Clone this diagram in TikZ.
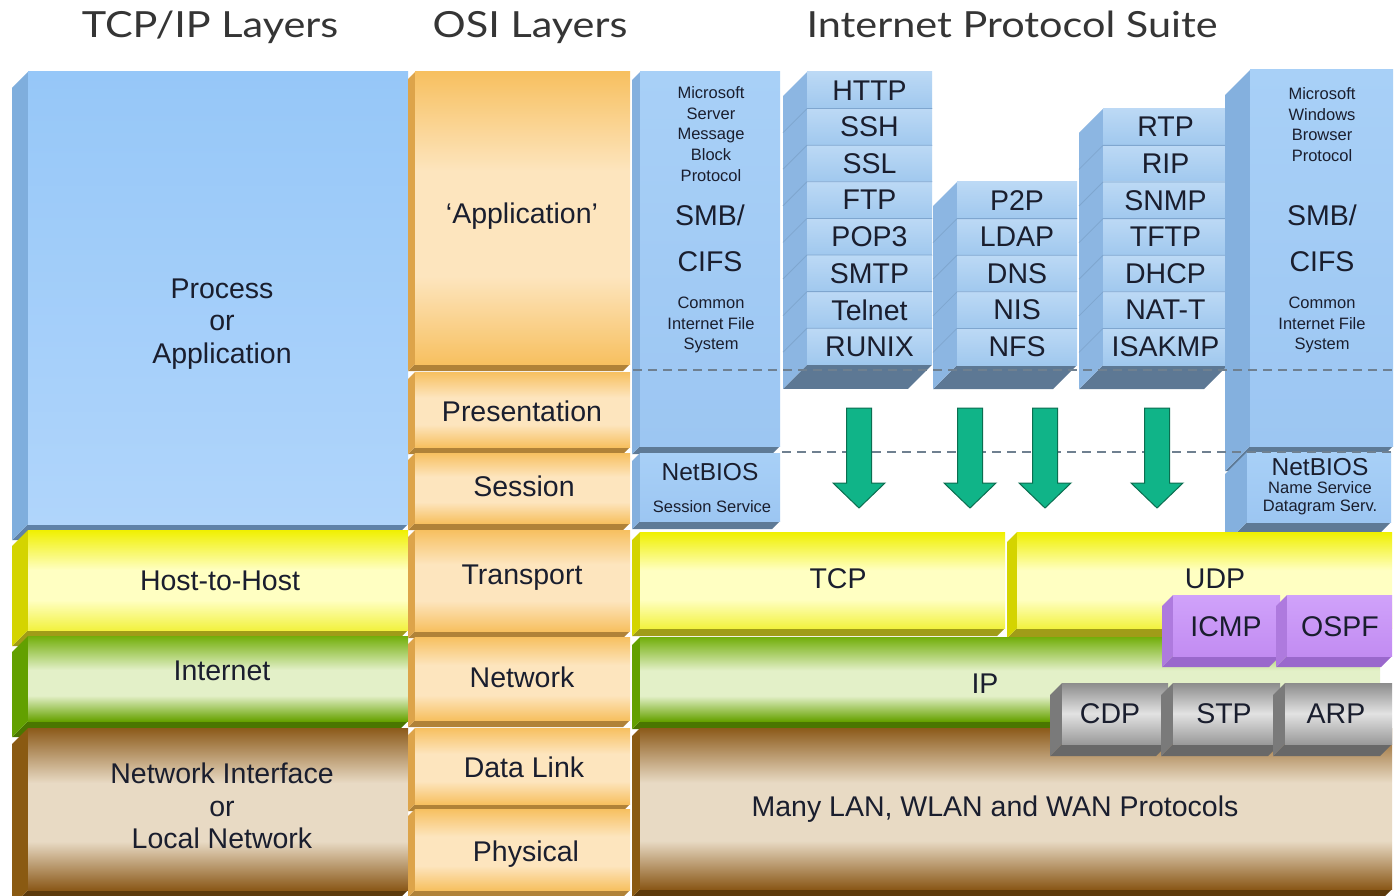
\documentclass[tikz,border=0pt]{standalone}
\usepackage{fontspec}
\setmainfont{Liberation Sans}
\newfontfamily\hdrfont{Lato}[FakeStretch=1.15]
\usetikzlibrary{shadings}
\definecolor{txt}{HTML}{1A1E2E}
\definecolor{hdr}{HTML}{353535}
% process blue
\definecolor{proA}{HTML}{96C7F8}\definecolor{proB}{HTML}{B0D5FB}
\definecolor{proS}{HTML}{7FAEDD}\definecolor{proD}{HTML}{5F82A8}
% osi orange
\definecolor{osiA}{HTML}{F7C060}\definecolor{osiB}{HTML}{FDE5BE}
\definecolor{osiS}{HTML}{DDA44A}\definecolor{osiD}{HTML}{B08238}
% yellow
\definecolor{yelA}{HTML}{F0F000}\definecolor{yelB}{HTML}{FFFFC2}\definecolor{yelC}{HTML}{F2F240}
\definecolor{yelS}{HTML}{D4D400}\definecolor{yelD}{HTML}{A09C18}
% green
\definecolor{grnA}{HTML}{72AE0A}\definecolor{grnB}{HTML}{E3F0C8}\definecolor{grnC}{HTML}{66A200}
\definecolor{grnS}{HTML}{62A000}\definecolor{grnD}{HTML}{4A7600}
% brown
\definecolor{brnA}{HTML}{8C5A1A}\definecolor{brnB}{HTML}{E8DAC4}\definecolor{brnC}{HTML}{8A5818}
\definecolor{brnS}{HTML}{8A5A12}\definecolor{brnD}{HTML}{5C3A0C}
% smb blue
\definecolor{smbA}{HTML}{A8D0F7}\definecolor{smbB}{HTML}{9CC6F2}
\definecolor{smbS}{HTML}{84B0DE}\definecolor{smbD}{HTML}{5E7A96}
% stack blue
\definecolor{stkA}{HTML}{BCD9F5}\definecolor{stkB}{HTML}{A0C8EE}
\definecolor{stkS}{HTML}{8CB6E2}\definecolor{stkD}{HTML}{5D7894}
\definecolor{stkL}{HTML}{7FA6CF}
% purple
\definecolor{purA}{HTML}{D0A2FA}\definecolor{purB}{HTML}{C28CF2}
\definecolor{purS}{HTML}{AE7ADE}\definecolor{purD}{HTML}{9A68CC}
% grey
\definecolor{gryA}{HTML}{8C8C8C}\definecolor{gryB}{HTML}{E2E2E2}\definecolor{gryC}{HTML}{9A9A9A}
\definecolor{gryS}{HTML}{7A7A7A}\definecolor{gryD}{HTML}{686868}
% arrows
\definecolor{arrF}{HTML}{10B488}\definecolor{arrE}{HTML}{0B6E50}
\definecolor{dash}{HTML}{6F8090}
% banded vertical shadings (path maps to 25bp..75bp, 75bp = top)
\pgfdeclareverticalshading{brnSh}{100bp}{color(0bp)=(brnC); color(25bp)=(brnC); color(40bp)=(brnB); color(58bp)=(brnB); color(75bp)=(brnA); color(100bp)=(brnA)}
\pgfdeclareverticalshading{grnSh}{100bp}{color(0bp)=(grnC); color(25bp)=(grnC); color(40bp)=(grnB); color(55bp)=(grnB); color(75bp)=(grnA); color(100bp)=(grnA)}
\pgfdeclareverticalshading{osiSh}{100bp}{color(0bp)=(osiA); color(25bp)=(osiA); color(40bp)=(osiB); color(58bp)=(osiB); color(75bp)=(osiA); color(100bp)=(osiA)}
\pgfdeclareverticalshading{yelSh}{100bp}{color(0bp)=(yelC); color(25bp)=(yelC); color(40bp)=(yelB); color(55bp)=(yelB); color(75bp)=(yelA); color(100bp)=(yelA)}
\tikzset{
  proFront/.style={top color=proA, bottom color=proB},
  proSide/.style={fill=proS},
  proBot/.style={fill=proD},
  osiFront/.style={shading=osiSh},
  osiSide/.style={fill=osiS},
  osiBot/.style={fill=osiD},
  yelFront/.style={shading=yelSh},
  yelSide/.style={fill=yelS},
  yelBot/.style={fill=yelD},
  grnFront/.style={shading=grnSh},
  grnSide/.style={fill=grnS},
  grnBot/.style={fill=grnD},
  brnFront/.style={shading=brnSh},
  brnSide/.style={fill=brnS},
  brnBot/.style={fill=brnD},
  smbFront/.style={top color=smbA, bottom color=smbB},
  smbSide/.style={fill=smbS},
  smbBot/.style={fill=smbD},
  stkFront/.style={top color=stkA, bottom color=stkB},
  stkSide/.style={fill=stkS},
  stkBot/.style={fill=stkD},
  purFront/.style={top color=purA, bottom color=purB},
  purSide/.style={fill=purS},
  purBot/.style={fill=purD},
  gryFront/.style={top color=gryA, bottom color=gryC, middle color=gryB},
  grySide/.style={fill=gryS},
  gryBot/.style={fill=gryD},
  rowline/.style={draw=stkL, line width=0.8pt},
  lbl/.style={font=\fontsize{28.5}{32.5}\selectfont, text=txt, align=center, inner sep=0pt},
  mid/.style={font=\fontsize{24.5}{28}\selectfont, text=txt, align=center, inner sep=0pt},
  sml/.style={font=\fontsize{16.5}{20.7}\selectfont, text=txt, align=center, inner sep=0pt},
  hdrtxt/.style={font=\hdrfont\fontsize{36}{40}\selectfont, text=hdr, inner sep=0pt, anchor=base},
  dashline/.style={draw=dash, line width=1.4pt, dash pattern=on 9pt off 6pt},
  garrow/.style={fill=arrF, draw=arrE, line width=1pt, line join=miter},
}
% x1 y1 x2 y2 depth family
\newcommand\layerbox[6]{%
  \path[#6Bot] (#1,#4) -- (#3,#4) -- ({#3-#5},{#4+#5}) -- ({#1-#5},{#4+#5}) -- cycle;
  \path[#6Side] (#1,#2) -- ({#1-#5},{#2+#5}) -- ({#1-#5},{#4+#5}) -- (#1,#4) -- cycle;
  \path[#6Front] (#1,#2) rectangle (#3,#4);
}
% x1 x2 ytop labels
\newcommand\stackrows[4]{%
  \foreach \lab [count=\i from 0] in {#4} {
    \pgfmathsetmacro\ya{#3+\i*36.6}
    \pgfmathsetmacro\yb{#3+(\i+1)*36.6}
    \layerbox{#1}{\ya}{#2}{\yb}{24}{stk}
    \ifnum\i>0 \draw[rowline] ({#1-24},{\ya+24}) -- (#1,\ya) -- (#2,\ya);\fi
    \node[lbl] (r-\lab) at ({(#1+#2)/2},{(\ya+\yb)/2}) {\lab};
  }%
}
\newcommand\greenarrow[1]{%
  \draw[garrow] ({#1-12.5},408) -- ({#1+12.5},408) -- ({#1+12.5},483) -- ({#1+26},483)
    -- (#1,508) -- ({#1-26},483) -- ({#1-12.5},483) -- cycle;
}
\begin{document}
\begin{tikzpicture}[x=1pt,y=-1pt]
\useasboundingbox (0,0) rectangle (1399,896);
\fill[white] (0,0) rectangle (1399,896);

% headers
\node[hdrtxt] (h1) at (210,38) {TCP/IP Layers};
\node[hdrtxt] (h2) at (530,38) {OSI Layers};
\node[hdrtxt] (h3) at (1012,38) {Internet Protocol Suite};

% TCP/IP column
\layerbox{28}{72}{408}{524}{16}{pro}
\layerbox{28}{530}{408}{630}{16}{yel}
\layerbox{28}{636}{408}{721}{16}{grn}
\layerbox{28}{728}{408}{890}{16}{brn}

% OSI column
\layerbox{415}{72}{630}{364}{7}{osi}
\layerbox{415}{372}{630}{447}{7}{osi}
\layerbox{415}{453}{630}{523}{7}{osi}
\layerbox{415}{530}{630}{631}{7}{osi}
\layerbox{415}{637}{630}{720}{7}{osi}
\layerbox{415}{728}{630}{804}{7}{osi}
\layerbox{415}{809}{630}{890}{7}{osi}

% Protocol suite: SMB left
\layerbox{640}{72}{780}{446}{8}{smb}
\layerbox{640}{453}{780}{521}{8}{smb}

% stacks
\stackrows{807}{932}{72}{HTTP,SSH,SSL,FTP,POP3,SMTP,Telnet,RUNIX}
\stackrows{957}{1077}{182}{P2P,LDAP,DNS,NIS,NFS}
\stackrows{1103}{1228}{108.8}{RTP,RIP,SNMP,TFTP,DHCP,NAT-T,ISAKMP}

% SMB right
\layerbox{1250}{70}{1393}{446}{25}{smb}
\layerbox{1247}{452}{1391}{522}{22}{smb}

% transport / network / link
\layerbox{640}{532}{1005}{628}{8}{yel}
\layerbox{1017}{532}{1392}{628}{10}{yel}
\layerbox{640}{637}{1380}{721}{8}{grn}
\layerbox{640}{728}{1392}{889}{8}{brn}

% ICMP / OSPF
\layerbox{1173}{595}{1280}{656}{11}{pur}
\layerbox{1287}{595}{1392}{656}{11}{pur}
% CDP / STP / ARP
\layerbox{1062}{683}{1168}{744}{12}{gry}
\layerbox{1173}{683}{1280}{744}{12}{gry}
\layerbox{1285}{683}{1392}{744}{12}{gry}

% dashed lines
\draw[dashline] (633,370) -- (1393,370);
\draw[dashline] (782,452) -- (1393,452);

% arrows
\greenarrow{859}
\greenarrow{970}
\greenarrow{1045}
\greenarrow{1157}

% texts, TCP/IP column
\node[lbl] (tProc) at (222,324) {Process\\or\\Application};
\node[lbl] (tHost) at (220,581) {Host-to-Host};
\node[lbl] (tInet) at (222,671) {Internet};
\node[lbl] (tNI) at (222,806) {Network Interface\\or\\Local Network};

% OSI texts
\node[lbl] (oApp) at (522,216) {‘Application’};
\node[lbl] (oPre) at (522,411) {Presentation};
\node[lbl] (oSes) at (524,486) {Session};
\node[lbl] (oTra) at (522,578) {Transport};
\node[lbl] (oNet) at (522,677) {Network};
\node[lbl] (oDL)  at (524,767) {Data Link};
\node[lbl] (oPhy) at (526,854) {Physical};

% SMB left texts
\node[sml] (sL1) at (711,134) {Microsoft\\Server\\Message\\Block\\Protocol};
\node[lbl] (sL2) at (710,215) {SMB/};
\node[lbl] (sL3) at (710,262) {CIFS};
\node[sml] (sL4) at (711,325) {Common\\Internet File\\System};
\node[mid] (nL1) at (710,472) {NetBIOS};
\node[sml] (nL2) at (712,507) {Session Service};

% SMB right texts
\node[sml] (sR1) at (1322,124.5) {Microsoft\\Windows\\Browser\\Protocol};
\node[lbl] (sR2) at (1322,215) {SMB/};
\node[lbl] (sR3) at (1322,262) {CIFS};
\node[sml] (sR4) at (1322,325) {Common\\Internet File\\System};
\node[mid] (nR1) at (1320,467) {NetBIOS};
\node[sml] (nR2) at (1320,488) {Name Service};
\node[sml] (nR3) at (1320,507) {Datagram Serv.};

% transport etc texts
\node[lbl] (pTCP) at (838,579) {TCP};
\node[lbl] (pUDP) at (1215,579) {UDP};
\node[lbl] (pIP) at (985,684) {IP};
\node[lbl] (pLAN) at (995,809) {Many LAN, WLAN and WAN Protocols};
\node[lbl] (pICMP) at (1226,627) {ICMP};
\node[lbl] (pOSPF) at (1340,627) {OSPF};
\node[lbl] (pCDP) at (1110,714) {CDP};
\node[lbl] (pSTP) at (1224,714) {STP};
\node[lbl] (pARP) at (1336,714) {ARP};
\end{tikzpicture}
\end{document}
